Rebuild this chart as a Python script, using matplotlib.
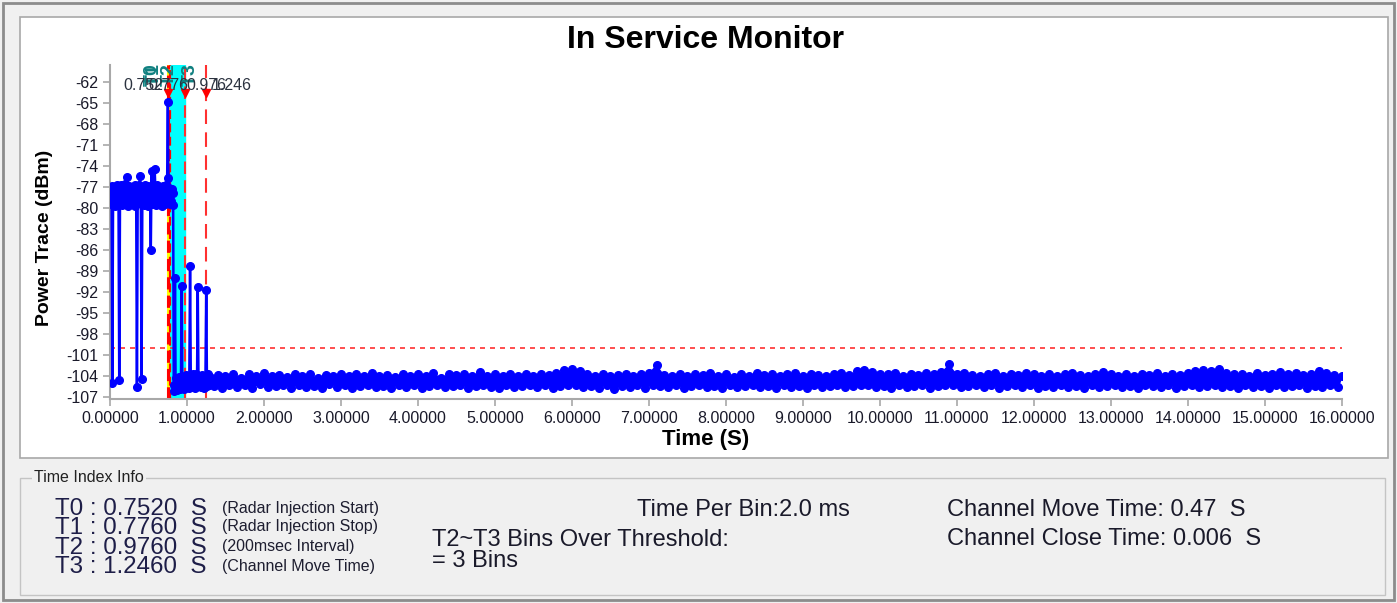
"""In Service Monitor - DFS radar channel move trace."""

import matplotlib.pyplot as plt
import numpy as np
from matplotlib.patches import Rectangle

plt.rcParams["font.family"] = ["Liberation Sans", "DejaVu Sans"]

W, H = 1397, 603

# --- data -----------------------------------------------------------------
# before radar injection: 10 ms steps from 0.00 s
power_pre = [
    -77.7, -79.5, -76.9, -105.1, -78.6, -79.2, -77.1, -79.7, -78.2, -76.7,
    -79.4, -77.5, -104.6, -78.9, -76.8, -79.6, -78.0, -77.2, -79.3, -77.6,
    -76.6, -79.1, -75.6, -79.7, -77.4, -76.9, -79.2, -77.8, -79.5, -77.0,
    -78.6, -77.3, -79.8, -76.8, -78.4, -105.6, -77.5, -79.3, -76.7, -75.4,
    -78.9, -104.5, -79.0, -77.1, -79.6, -77.9, -76.8, -79.2, -77.3, -79.7,
    -76.9, -78.5, -77.6, -86.0, -74.8, -79.4, -77.2, -78.8, -74.4, -77.5,
    -79.6, -76.8, -78.9, -77.4, -79.5, -77.1, -78.3, -77.7, -79.8, -76.9,
    -79.0, -77.3, -79.4, -76.7, -78.6,
]
pre_step = 0.01

# injection and move window
time_mid = [
    0.752, 0.758, 0.764, 0.772, 0.780, 0.788, 0.796, 0.804, 0.812, 0.820,
    0.828, 0.836, 0.844, 0.852, 0.862, 0.872, 0.882, 0.892, 0.902, 0.912,
    0.922, 0.930, 0.940, 0.950, 0.960, 0.970, 0.980, 0.990, 1.000, 1.010,
    1.020, 1.030, 1.040, 1.050, 1.060, 1.070, 1.080, 1.090, 1.100, 1.110,
    1.120, 1.130, 1.140, 1.150, 1.160, 1.170, 1.180, 1.190, 1.200, 1.210,
    1.220, 1.230, 1.240, 1.250, 1.260, 1.270, 1.280,
]
power_mid = [
    -64.9, -75.7, -78.9, -77.2, -79.4, -77.7, -79.0, -77.3, -79.6, -77.9,
    -105.3, -106.2, -90.1, -105.6, -104.4, -106.0, -104.6, -105.8, -104.2, -105.9,
    -104.5, -91.2, -105.7, -104.3, -105.9, -104.1, -105.6, -103.9, -105.5, -104.0,
    -105.7, -104.8, -88.3, -105.4, -104.1, -105.6, -103.8, -105.4, -104.2, -105.7,
    -103.7, -105.3, -91.3, -105.5, -104.0, -104.6, -105.6, -103.9, -105.4, -104.1,
    -105.7, -104.3, -104.2, -91.7, -105.5, -103.8, -105.4,
]

# noise floor after the move: 50 ms steps from 1.30 s (even bins high, odd bins low)
floor_start = 1.30
floor_step = 0.05
power_floor = [
    -104.2, -105.5, -103.9, -105.7, -104.0, -105.3, -103.7, -105.6, -104.3, -105.4,
    -103.8, -105.8, -104.1, -105.2, -103.6, -105.6, -104.0, -105.5, -103.9, -105.4,
    -104.2, -105.7, -103.7, -105.3, -104.0, -105.6, -103.8, -105.5, -104.3, -105.8,
    -103.9, -105.2, -104.1, -105.6, -103.7, -105.4, -104.0, -105.7, -103.8, -105.5,
    -104.1, -105.3, -103.6, -105.6, -104.0, -105.5, -103.9, -105.7, -104.2, -105.4,
    -103.7, -105.6, -104.0, -105.3, -103.8, -105.8, -104.1, -105.5, -103.6, -105.4,
    -104.3, -105.6, -103.8, -105.5, -103.9, -105.3, -103.7, -105.7, -104.0, -105.5,
    -103.5, -105.4, -104.1, -105.6, -103.8, -105.8, -104.0, -105.4, -103.7, -105.6,
    -104.1, -105.5, -103.8, -105.3, -104.0, -105.6, -103.7, -105.4, -103.9, -105.7,
    -103.6, -105.5, -103.2, -105.3, -103.0, -105.4, -103.3, -105.6, -103.7, -105.5,
    -104.0, -105.7, -103.8, -105.4, -104.1, -105.9, -103.9, -105.5, -103.7, -105.6,
    -104.0, -105.4, -103.8, -105.7, -103.6, -105.3, -102.4, -105.5, -103.9, -105.6,
    -104.1, -105.4, -103.7, -105.7, -104.0, -105.5, -103.8, -105.3, -103.9, -105.6,
    -103.6, -105.5, -104.0, -105.7, -103.7, -105.4, -104.2, -105.6, -103.8, -105.5,
    -104.0, -105.3, -103.6, -105.6, -103.9, -105.5, -103.7, -105.7, -104.1, -105.4,
    -103.8, -105.6, -103.6, -105.5, -104.0, -105.8, -103.7, -105.4, -103.9, -105.6,
    -104.1, -105.5, -103.8, -105.4, -103.6, -105.6, -103.9, -105.5, -103.4, -105.3,
    -103.2, -105.4, -103.5, -105.6, -103.7, -105.5, -103.8, -105.7, -103.6, -105.4,
    -104.0, -105.6, -103.7, -105.5, -103.9, -105.4, -103.6, -105.7, -103.8, -105.5,
    -103.5, -105.3, -102.3, -105.3, -103.8, -105.6, -103.6, -105.5, -103.9, -105.4,
    -104.1, -105.6, -103.8, -105.4, -103.6, -105.7, -104.0, -105.5, -103.7, -105.3,
    -103.9, -105.6, -103.6, -105.4, -103.8, -105.8, -104.0, -105.5, -103.7, -105.6,
    -104.1, -105.4, -103.8, -105.6, -103.6, -105.5, -103.9, -105.7, -104.0, -105.4,
    -103.7, -105.6, -103.5, -105.5, -103.8, -105.3, -104.0, -105.6, -103.7, -105.5,
    -104.1, -105.7, -103.8, -105.4, -103.9, -105.5, -103.6, -105.6, -104.0, -105.4,
    -103.7, -105.7, -103.9, -105.5, -103.6, -105.4, -103.4, -105.6, -103.2, -105.5,
    -103.3, -105.4, -103.1, -105.6, -103.6, -105.5, -103.8, -105.8, -103.7, -105.4,
    -104.0, -105.6, -103.6, -105.5, -103.9, -105.7, -103.7, -105.4, -103.5, -105.6,
    -103.8, -105.5, -103.6, -105.4, -103.9, -105.7, -103.7, -105.5, -103.4, -105.6,
    -103.6, -105.4, -103.9, -105.6, -104.0,
]

threshold = -100.1
t_marks = [0.752, 0.776, 0.976, 1.246]
t_names = ["T0", "T1", "T2", "T3"]
t_values = ["0.752", "0.776", "0.976", "1.246"]
t_notes = ["(Radar Injection Start)", "(Radar Injection Stop)",
           "(200msec Interval)", "(Channel Move Time)"]
t_lines = ["T0 : 0.7520  S", "T1 : 0.7760  S", "T2 : 0.9760  S", "T3 : 1.2460  S"]

x_ticks = list(range(0, 17))
y_ticks = [-62, -65, -68, -71, -74, -77, -80, -83, -86, -89, -92, -95, -98,
           -101, -104, -107]

time_pre = np.arange(len(power_pre)) * pre_step
time_floor = floor_start + np.arange(len(power_floor)) * floor_step
time_all = np.concatenate([time_pre, time_mid, time_floor])
power_all = np.concatenate([power_pre, power_mid, power_floor])
floor_arr = np.array(power_floor)


def fx(px):
    return px / W


def fy(py):
    return 1 - py / H


fig = plt.figure(figsize=(W / 100, H / 100), dpi=100)
fig.patch.set_facecolor("#f0f0f0")

# window frame, chart panel and group box
fig.add_artist(Rectangle((fx(3), fy(600)), fx(1391), 597 / H, transform=fig.transFigure,
                         fill=False, edgecolor="#8c8c8c", lw=2, zorder=-10))
fig.add_artist(Rectangle((fx(20), fy(458)), fx(1368), 441 / H, transform=fig.transFigure,
                         facecolor="white", edgecolor="#a8a8a8", lw=1.2, zorder=-9))
fig.add_artist(Rectangle((fx(20), fy(595)), fx(1365), 117 / H, transform=fig.transFigure,
                         fill=False, edgecolor="#c4c4c4", lw=1, zorder=-8))

ax = fig.add_axes([fx(110), fy(399), (1341.7 - 110) / W, (399 - 65) / H])
ax.set_facecolor("none")

ax.axvspan(t_marks[1], t_marks[2], color="#00ffff", zorder=1)
ax.axvline(t_marks[0], color="#ffff00", lw=2.2, zorder=2)
ax.axvline(t_marks[0], color="#ff0000", lw=2.2, ls=(0, (4, 2)), zorder=2)
ax.axvline(t_marks[1], color="#ff0000", lw=1.6, ls=(0, (4, 2)), zorder=2)
ax.axvline(t_marks[2], color="#ff3030", lw=1.5, ls=(0, (6, 3)), zorder=2)
ax.axvline(t_marks[3], color="#ff3030", lw=1.5, ls=(0, (7, 4)), zorder=2)
ax.axhline(threshold, color="#ff3030", lw=1.2, ls=(0, (3, 3)), zorder=2)

# dense noise floor: fill between the high and low bins of the trace
ax.fill(np.concatenate([time_floor[0::2], time_floor[1::2][::-1]]),
        np.concatenate([floor_arr[0::2], floor_arr[1::2][::-1]]),
        color="#0000ff", lw=0, zorder=3)
ax.plot(time_all, power_all, color="#0000ff", lw=1.8, marker="o", ms=5.5,
        mec="#0000ff", zorder=3)

ax.plot([t_marks[0], t_marks[2], t_marks[3]], [-63.6] * 3, ls="none", marker="v",
        color="#ff0000", ms=6, zorder=4, clip_on=False)

for t, name in zip(t_marks, t_names):
    ax.text(t - 0.2, -61.0, name, color="#108080", fontsize=14, fontweight="bold",
            rotation=90, ha="center", va="center", zorder=5)
for t, val, dx in zip(t_marks, t_values, [-0.32, -0.02, 0.27, 0.33]):
    ax.text(t + dx, -62.6, val, color="#2c3340", fontsize=11.5, ha="center",
            va="center", zorder=6)

ax.set_xlim(0, 16)
ax.set_ylim(-107.33, -59.6)
ax.set_xticks(x_ticks)
ax.set_xticklabels([f"{v:.5f}" for v in x_ticks])
ax.set_yticks(y_ticks)
ax.set_yticklabels([str(v) for v in y_ticks])
for side in ["top", "right"]:
    ax.spines[side].set_visible(False)
for side in ["left", "bottom"]:
    ax.spines[side].set_color("#a8a8a8")
    ax.spines[side].set_linewidth(1.5)
ax.tick_params(colors="#a8a8a8", labelcolor="#1a1a2a", labelsize=11.5, length=5, width=1.2)

fig.text(fx(705), fy(40), "In Service Monitor", fontsize=23, fontweight="bold",
         ha="center", va="center")
fig.text(fx(45), fy(238), "Power Trace (dBm)", fontsize=14, fontweight="bold",
         rotation=90, ha="center", va="center")
fig.text(fx(706), fy(439), "Time (S)", fontsize=16, fontweight="bold",
         ha="center", va="center")

# Time Index Info panel
fig.text(fx(34), fy(478), "Time Index Info", fontsize=11.5, color="#222222",
         ha="left", va="center",
         bbox=dict(facecolor="#f0f0f0", edgecolor="none", pad=1.5))
for i, (line, note) in enumerate(zip(t_lines, t_notes)):
    y = [509, 528, 548, 567][i]
    fig.text(fx(55), fy(y), line, fontsize=17.4, color="#1e1e48", ha="left", va="center")
    fig.text(fx(222), fy(y - 1), note, fontsize=11.5, color="#1e1e30", ha="left",
             va="center")

info_color = "#1a1a2a"
fig.text(fx(637), fy(510), "Time Per Bin:2.0 ms", fontsize=17, color=info_color,
         ha="left", va="center")
fig.text(fx(432), fy(540), "T2~T3 Bins Over Threshold:", fontsize=17, color=info_color,
         ha="left", va="center")
fig.text(fx(432), fy(561), "= 3 Bins", fontsize=17, color=info_color,
         ha="left", va="center")
fig.text(fx(947), fy(510), "Channel Move Time: 0.47  S", fontsize=17, color=info_color,
         ha="left", va="center")
fig.text(fx(947), fy(539), "Channel Close Time: 0.006  S", fontsize=17, color=info_color,
         ha="left", va="center")

fig.savefig("out.png", dpi=100, facecolor=fig.get_facecolor())
plt.close(fig)
